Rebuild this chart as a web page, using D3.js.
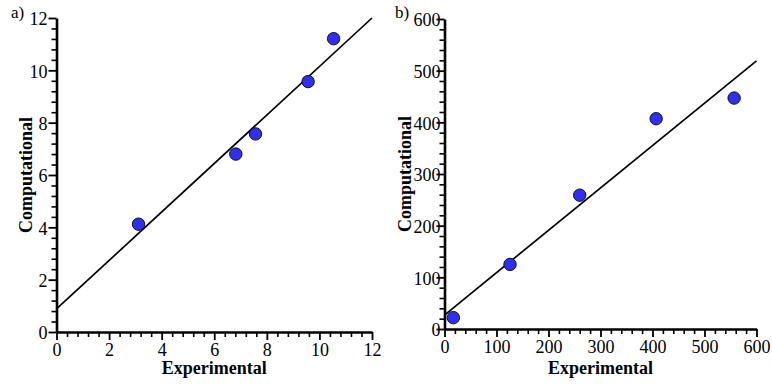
<!DOCTYPE html>
<html>
<head>
<meta charset="utf-8">
<script src="https://cdn.jsdelivr.net/npm/d3@7"></script>
<style>
  body { margin: 0; background: #fff; }
  svg { display: block; }
</style>
</head>
<body>
<div id="chart"></div>
<script>
// panel a
const expA = [3.12, 6.82, 7.57, 9.57, 10.54];
const compA = [4.12, 6.80, 7.57, 9.57, 11.21];
const fitA = [[0, 0.88], [12, 12]];
const ticksA = [0, 2, 4, 6, 8, 10, 12];

// panel b
const expB = [17, 126, 260, 407, 557];
const compB = [22, 125, 259, 407, 447];
const fitB = [[0, 27], [600, 519]];
const ticksB = [0, 100, 200, 300, 400, 500, 600];

const W = 772, H = 385;
const serif = "'Liberation Serif', 'Times New Roman', serif";

const svg = d3.select("#chart").append("svg")
    .attr("width", W)
    .attr("height", H);

function drawPanel(o) {
    const x = d3.scaleLinear().domain([0, o.max]).range(o.xr);
    const y = d3.scaleLinear().domain([0, o.max]).range(o.yr);
    const g = svg.append("g");

    // minor ticks (4 between each major)
    const step = o.max / 30;
    const minor = d3.range(0, 31).map(i => i * step).filter(v => !o.ticks.some(t => Math.abs(t - v) < 1e-9));

    const minorX = g.append("g").attr("transform", `translate(0,${o.yr[0]})`)
        .call(d3.axisBottom(x).tickValues(minor).tickSize(5).tickFormat(""));
    const minorY = g.append("g").attr("transform", `translate(${o.xr[0]},0)`)
        .call(d3.axisLeft(y).tickValues(minor).tickSize(5).tickFormat(""));
    [minorX, minorY].forEach(a => {
        a.select(".domain").remove();
        a.selectAll("line").attr("stroke", "#000").attr("stroke-width", 1.6);
    });

    const ax = g.append("g").attr("transform", `translate(0,${o.yr[0]})`)
        .call(d3.axisBottom(x).tickValues(o.ticks).tickSize(8).tickSizeOuter(0).tickPadding(3));
    const ay = g.append("g").attr("transform", `translate(${o.xr[0]},0)`)
        .call(d3.axisLeft(y).tickValues(o.ticks).tickSize(8).tickSizeOuter(0).tickPadding(o.ypad));
    [ax, ay].forEach(a => {
        a.attr("font-family", serif).attr("font-size", 18);
        a.select(".domain").attr("stroke", "#000").attr("stroke-width", 2.6);
        a.selectAll("line").attr("stroke", "#000").attr("stroke-width", 1.8);
        a.selectAll("text").attr("font-family", serif).attr("font-size", 18).attr("fill", "#000");
    });
    ay.selectAll("text").attr("dy", "0.38em");

    // fit line
    g.append("line")
        .attr("x1", x(o.fit[0][0])).attr("y1", y(o.fit[0][1]))
        .attr("x2", x(o.fit[1][0])).attr("y2", y(o.fit[1][1]))
        .attr("stroke", "#000")
        .attr("stroke-width", 1.7);

    g.selectAll("circle.pt")
        .data(o.xs.map((v, i) => [v, o.ys[i]]))
        .join("circle")
        .attr("class", "pt")
        .attr("cx", d => x(d[0]))
        .attr("cy", d => y(d[1]))
        .attr("r", 6.2)
        .attr("fill", "#2f2ff2")
        .attr("stroke", "#111")
        .attr("stroke-width", 1);

    // titles
    g.append("text")
        .attr("x", (o.xr[0] + o.xr[1]) / 2)
        .attr("y", 374)
        .attr("text-anchor", "middle")
        .attr("font-family", serif)
        .attr("font-weight", "bold")
        .attr("font-size", 18)
        .text("Experimental");

    g.append("text")
        .attr("transform", `translate(${o.ytx},${(o.yr[0] + o.yr[1]) / 2}) rotate(-90)`)
        .attr("text-anchor", "middle")
        .attr("font-family", serif)
        .attr("font-weight", "bold")
        .attr("font-size", 18)
        .text("Computational");

    g.append("text")
        .attr("x", o.lx)
        .attr("y", 18)
        .attr("font-family", serif)
        .attr("font-size", 17)
        .text(o.label);
}

drawPanel({ xs: expA, ys: compA, fit: fitA, ticks: ticksA, max: 12, ypad: 1,
    xr: [56.5, 372], yr: [332, 18], ytx: 31.5, lx: 11, label: "a)" });
drawPanel({ xs: expB, ys: compB, fit: fitB, ticks: ticksB, max: 600, ypad: -4,
    xr: [444.5, 756.5], yr: [329, 19], ytx: 411, lx: 395, label: "b)" });
</script>
</body>
</html>
